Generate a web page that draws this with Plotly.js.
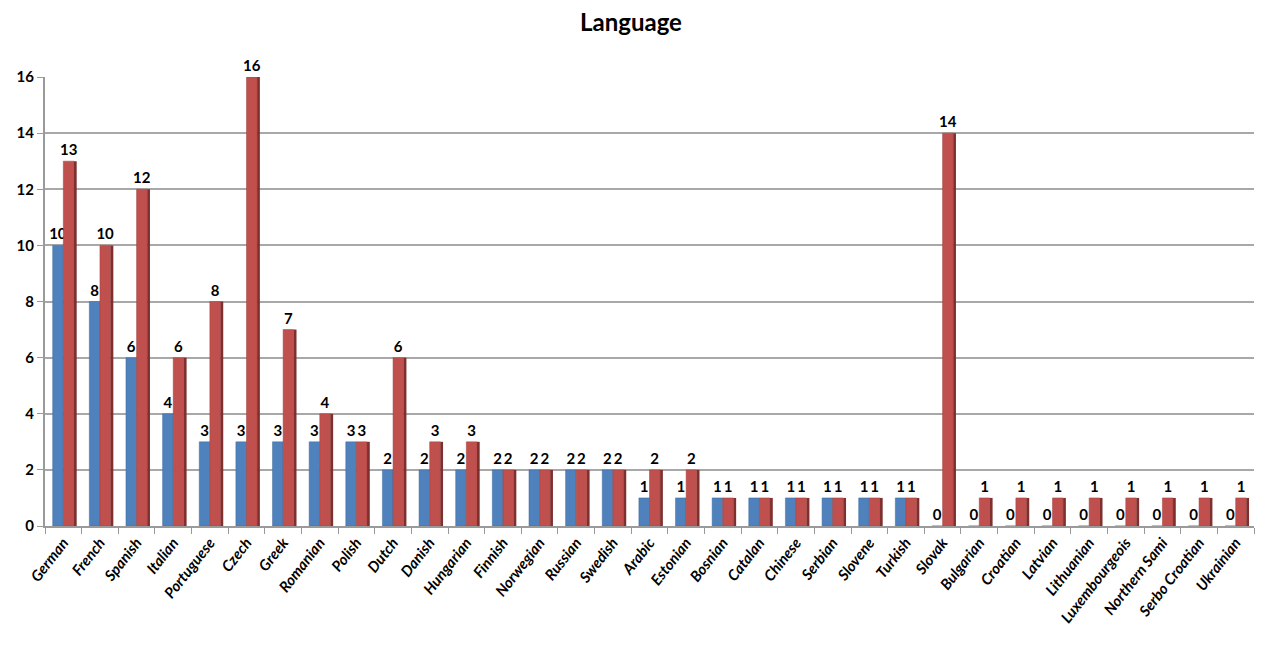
<!DOCTYPE html>
<html>
<head>
<meta charset="utf-8">
<script src="https://cdn.plot.ly/plotly-3.0.1.min.js"></script>
<style>html,body{margin:0;padding:0;background:#fff;}#chart{width:1262px;height:645px;}</style>
</head>
<body>
<div id="chart"></div>
<script>
const languages = ["German","French","Spanish","Italian","Portuguese","Czech","Greek","Romanian","Polish","Dutch","Danish","Hungarian","Finnish","Norwegian","Russian","Swedish","Arabic","Estonian","Bosnian","Catalan","Chinese","Serbian","Slovene","Turkish","Slovak","Bulgarian","Croatian","Latvian","Lithuanian","Luxembourgeois","Northern Sami","Serbo Croatian","Ukrainian"];
const seriesBlue = [10,8,6,4,3,3,3,3,3,2,2,2,2,2,2,2,1,1,1,1,1,1,1,1,0,0,0,0,0,0,0,0,0];
const seriesRed  = [13,10,12,6,8,16,7,4,3,6,3,3,2,2,2,2,2,2,1,1,1,1,1,1,14,1,1,1,1,1,1,1,1];
const yTicks = [0,2,4,6,8,10,12,14,16];

const labelFont = {family: "Lato, Arial, sans-serif", size: 15, color: "#000", weight: "bold"};

const traces = [
  {
    type: "bar", x: languages, y: seriesBlue,
    offset: -0.29, width: 0.29,
    marker: {color: "#4F81BD", line: {color: "#3F6C9F", width: 0.5}},
    text: seriesBlue.map(String), textposition: "outside", textfont: labelFont,
    constraintext: "none", cliponaxis: false, hoverinfo: "x+y", name: "Series 1"
  },
  {
    type: "bar", x: languages, y: seriesRed,
    offset: 0, width: 0.29,
    marker: {color: "#C0504D", line: {color: "#A0403D", width: 0.5}},
    text: seriesRed.map(String), textposition: "outside", textfont: labelFont,
    constraintext: "none", cliponaxis: false, hoverinfo: "x+y", name: "Series 2"
  },
  {
    type: "bar", x: languages, y: seriesRed,
    offset: 0.29, width: 0.075,
    marker: {color: "#7F2F2D", line: {width: 0}},
    hoverinfo: "skip", showlegend: false, name: "side"
  }
];

const layout = {
  width: 1262, height: 645,
  margin: {l: 45, r: 8, t: 77, b: 119},
  paper_bgcolor: "#fff", plot_bgcolor: "#fff",
  showlegend: false,
  barmode: "overlay",
  title: {
    text: "Language",
    font: {family: "Lato, Arial, sans-serif", size: 24, color: "#000", weight: "bold"},
    x: 0.5, xanchor: "center", y: 0.965, yanchor: "middle", yref: "container"
  },
  xaxis: {
    type: "category",
    tickangle: -52,
    tickfont: {family: "Lato, Arial, sans-serif", size: 15, color: "#000", style: "italic", weight: "bold"},
    showline: true, linecolor: "#9a9a9a", linewidth: 2,
    ticks: "outside", tickson: "boundaries", ticklen: 6, tickcolor: "#9a9a9a",
    showgrid: false
  },
  yaxis: {
    range: [0, 16], tickvals: yTicks,
    tickfont: {family: "Lato, Arial, sans-serif", size: 15, color: "#000", weight: "bold"},
    showline: true, linecolor: "#9a9a9a", linewidth: 2,
    ticks: "outside", ticklen: 6, tickcolor: "#9a9a9a",
    showgrid: true, gridcolor: "#a8a8a8", gridwidth: 2,
    zeroline: false
  }
};

Plotly.newPlot("chart", traces, layout, {displayModeBar: false, staticPlot: true});
</script>
</body>
</html>
